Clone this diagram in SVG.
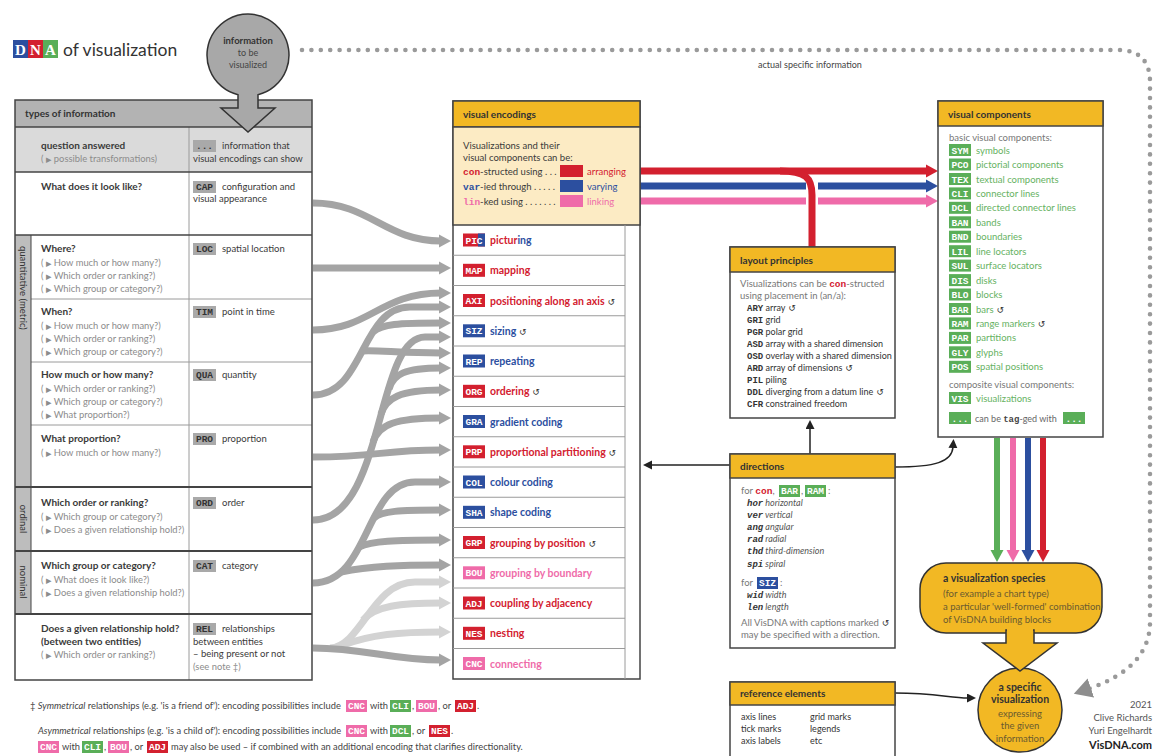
<svg xmlns="http://www.w3.org/2000/svg" width="1157" height="756" viewBox="0 0 1157 756">
<defs>
<style>
text{font-family:Lato,"Open Sans","Liberation Sans",sans-serif;}
.q{font-size:10px;font-weight:700;fill:#3a3a3a}
.s{font-size:9.4px;fill:#8c8c8c}
.t{font-size:9.5px;fill:#3a3a3a}
.sm{font-size:9px;fill:#444}
.hd{font-size:10px;font-weight:700;fill:#333}
.mono{font-family:"Liberation Mono","DejaVu Sans Mono",monospace;font-weight:700}
.tg{font-family:"Liberation Mono","DejaVu Sans Mono",monospace;font-weight:700;font-size:9.5px;text-anchor:middle;fill:#fff}
.tgd{font-family:"Liberation Mono","DejaVu Sans Mono",monospace;font-weight:700;font-size:9.5px;text-anchor:middle;fill:#333}
.box{fill:#fff;stroke:#444;stroke-width:1.5}
.yh{fill:#f2b824;stroke:#444;stroke-width:1.5}
.enc{font-size:10.5px;font-weight:700}
.red{fill:#d3202f}.blu{fill:#2c4f9f}.pnk{fill:#ef6ba9}.grn{fill:#5aae58}.gry{fill:#a9a9a9}
.gc{font-size:9.5px;fill:#66b262}
.rl{stroke:#9a9a9a;stroke-width:1}
.dl{stroke:#444;stroke-width:1.5}
.flow{fill:none;stroke:#a4a4a4;stroke-width:7}
.flowl{fill:none;stroke:#d3d3d3;stroke-width:7}
.thin{fill:none;stroke:#222;stroke-width:1.5}
.rot{font-size:9.5px;fill:#333}
.arr{font-family:"DejaVu Sans",sans-serif;font-weight:400;fill:#333;font-size:9px}
.tri{font-family:"DejaVu Sans",sans-serif;font-size:7.2px}
.dna{font-family:"Liberation Serif",serif;font-weight:700;font-size:15px;fill:#fff;text-anchor:middle}
.gt{font-size:9.5px;fill:#777}
.sp{font-size:9.5px;fill:#6a5a30}
</style>
<marker id="mg" markerUnits="userSpaceOnUse" markerWidth="14" markerHeight="16" refX="2" refY="8" orient="auto"><path d="M0,1.5 L12,8 L0,14.5 z" fill="#a4a4a4"/></marker>
<marker id="ml" markerUnits="userSpaceOnUse" markerWidth="14" markerHeight="16" refX="2" refY="8" orient="auto"><path d="M0,1.5 L12,8 L0,14.5 z" fill="#d3d3d3"/></marker>
<marker id="mr" markerUnits="userSpaceOnUse" markerWidth="14" markerHeight="16" refX="2" refY="8" orient="auto"><path d="M0,1.5 L12,8 L0,14.5 z" fill="#d3202f"/></marker>
<marker id="mb" markerUnits="userSpaceOnUse" markerWidth="14" markerHeight="16" refX="2" refY="8" orient="auto"><path d="M0,1.5 L12,8 L0,14.5 z" fill="#2c4f9f"/></marker>
<marker id="mp" markerUnits="userSpaceOnUse" markerWidth="14" markerHeight="16" refX="2" refY="8" orient="auto"><path d="M0,1.5 L12,8 L0,14.5 z" fill="#ef6ba9"/></marker>
<marker id="mgr" markerUnits="userSpaceOnUse" markerWidth="14" markerHeight="16" refX="2" refY="8" orient="auto"><path d="M0,1.5 L12,8 L0,14.5 z" fill="#5aae58"/></marker>
<marker id="mk" markerUnits="userSpaceOnUse" markerWidth="10" markerHeight="10" refX="1" refY="4.5" orient="auto"><path d="M0,0 L9,4.5 L0,9 z" fill="#222"/></marker>
<marker id="md" markerUnits="userSpaceOnUse" markerWidth="22" markerHeight="22" refX="3" refY="10" orient="auto"><path d="M0,0 L18,10 L0,20 z" fill="#8e8e8e"/></marker>
</defs>
<rect width="1157" height="756" fill="#fff"/>

<!-- title -->
<g id="title">
<rect x="13" y="40" width="15" height="18" fill="#2c4f9f"/>
<rect x="28" y="40" width="15" height="18" fill="#d3202f"/>
<rect x="43" y="40" width="15" height="18" fill="#5aae58"/>
<text x="20.5" y="55" class="dna">D</text>
<text x="35.5" y="55" class="dna">N</text>
<text x="50.5" y="55" class="dna">A</text>
<text x="63" y="56" style="font-size:17.5px;fill:#333">of visualization</text>
</g>

<!-- connectors -->
<g id="connectors">
<!-- dotted route of the actual specific information -->
<path d="M302,50 L1118,50 Q1150,50 1150,82 L1150,622 Q1150,668 1088,689" fill="none" stroke="#9a9a9a" stroke-width="4.6" stroke-linecap="round" stroke-dasharray="0 9.4" marker-end="url(#md)"/>
<text x="810" y="68" text-anchor="middle" class="sm">actual specific information</text>

<!-- types of information to visual encodings -->
<path class="flowl" d="M330,648 C362,646 372,582 415,582 L441,582" marker-end="url(#ml)"/>
<path class="flowl" d="M340,646 C372,634 400,632 441,632" marker-end="url(#ml)"/>
<path class="flowl" d="M363,620 C375,606 400,603 441,603" marker-end="url(#ml)"/>
<path class="flow" d="M313,648 C365,648 390,660 441,660" marker-end="url(#mg)"/>

<path class="flow" d="M313,203 C370,203 385,241 441,241" marker-end="url(#mg)"/>
<path class="flow" d="M313,268 L441,268" marker-end="url(#mg)"/>
<path class="flow" d="M313,330 C370,330 380,293 441,293" marker-end="url(#mg)"/>
<path class="flow" d="M313,395 C365,395 360,307 410,307 L441,307" marker-end="url(#mg)"/>
<path class="flow" d="M362,351 C378,350 400,353 441,353" marker-end="url(#mg)"/>
<path class="flow" d="M373,332 C382,324 398,323 441,323" marker-end="url(#mg)"/>
<path class="flow" d="M313,457 C380,457 380,450 441,450" marker-end="url(#mg)"/>
<path class="flow" d="M313,520 C385,520 375,337 425,337 L441,337" marker-end="url(#mg)"/>
<path class="flow" d="M373,442 C379,424 396,418 441,418" marker-end="url(#mg)"/>
<path class="flow" d="M381,414 C386,398 400,390 441,390" marker-end="url(#mg)"/>
<path class="flow" d="M389,389 C393,374 405,368 441,368" marker-end="url(#mg)"/>
<path class="flow" d="M313,583 C370,583 365,482 415,482 L441,482" marker-end="url(#mg)"/>
<path class="flow" d="M341,572 C370,566 400,565 441,565" marker-end="url(#mg)"/>
<path class="flow" d="M359,547 C372,541 395,540 441,540" marker-end="url(#mg)"/>
<path class="flow" d="M374,518 C381,511 400,510 441,510" marker-end="url(#mg)"/>

<!-- arranging / varying / linking -->
<path d="M640,171 L928,171" stroke="#d3202f" stroke-width="7" fill="none" marker-end="url(#mr)"/>
<path d="M640,186 L928,186" stroke="#2c4f9f" stroke-width="7" fill="none" marker-end="url(#mb)"/>
<path d="M640,201 L928,201" stroke="#ef6ba9" stroke-width="7" fill="none" marker-end="url(#mp)"/>
<path d="M812,180 L812,212" stroke="#fff" stroke-width="12" fill="none"/>
<path d="M780,171 C806,171 812,178 812,195 L812,247" stroke="#d3202f" stroke-width="7" fill="none"/>

<!-- visual components to species -->
<path d="M997,438 L997,552" stroke="#5aae58" stroke-width="6" fill="none" marker-end="url(#mgr)"/>
<path d="M1013,438 L1013,552" stroke="#ef6ba9" stroke-width="6" fill="none" marker-end="url(#mp)"/>
<path d="M1028,438 L1028,552" stroke="#2c4f9f" stroke-width="6" fill="none" marker-end="url(#mb)"/>
<path d="M1043,438 L1043,552" stroke="#d3202f" stroke-width="6" fill="none" marker-end="url(#mr)"/>

<!-- directions -->
<path class="thin" d="M810,454 L810,428" marker-end="url(#mk)"/>
<path class="thin" d="M730,465 L651,465" marker-end="url(#mk)"/>
<path class="thin" d="M895,467 C935,467 952,462 953,447" marker-end="url(#mk)"/>
<!-- reference elements -->
<path class="thin" d="M895,693 C935,693 950,698 968,698" marker-end="url(#mk)"/>
</g>

<!-- types of information table -->
<g id="types-of-information">
<rect x="15" y="100" width="297" height="580" fill="#fff"/>
<rect x="15" y="100" width="297" height="27" fill="#b3b3b3"/>
<rect x="15" y="127" width="297" height="45" fill="#dadada"/>
<rect x="15" y="235" width="16" height="379" fill="#bdbdbd"/>
<g class="rl">
<line x1="31" y1="299" x2="312" y2="299"/>
<line x1="31" y1="362" x2="312" y2="362"/>
<line x1="31" y1="425" x2="312" y2="425"/>
<line x1="189" y1="127" x2="189" y2="680"/>
</g>
<g class="dl">
<line x1="15" y1="127" x2="312" y2="127"/>
<line x1="15" y1="172" x2="312" y2="172"/>
<line x1="15" y1="235" x2="312" y2="235"/>
<line x1="15" y1="487" x2="312" y2="487" stroke-width="2"/>
<line x1="15" y1="551" x2="312" y2="551" stroke-width="2"/>
<line x1="15" y1="614" x2="312" y2="614" stroke-width="2"/>
<line x1="31" y1="235" x2="31" y2="614" stroke-width="1"/>
</g>
<rect x="15" y="100" width="297" height="580" fill="none" stroke="#444" stroke-width="1.5"/>
<text x="25" y="117" class="hd">types of information</text>

<text class="rot" transform="translate(19.5,246) rotate(90)">quantitative (metric)</text>
<text class="rot" transform="translate(19.5,519) rotate(90)" text-anchor="middle">ordinal</text>
<text class="rot" transform="translate(19.5,582) rotate(90)" text-anchor="middle">nominal</text>

<text x="41" y="149" class="q">question answered</text>
<text x="41" y="162" class="s">( <tspan class="tri">▶</tspan> possible transformations)</text>
<rect x="193" y="140" width="23" height="12" class="gry"/><text x="204.5" y="149" class="tgd">...</text>
<text x="222" y="149" class="t">information that</text>
<text x="193" y="162" class="t">visual encodings can show</text>

<text x="41" y="190" class="q">What does it look like?</text>
<rect x="193" y="181" width="23" height="12" class="gry"/><text x="204.5" y="190" class="tgd">CAP</text>
<text x="222" y="190" class="t">configuration and</text>
<text x="193" y="202" class="t">visual appearance</text>

<text x="41" y="252" class="q">Where?</text>
<text x="41" y="266" class="s">( <tspan class="tri">▶</tspan> How much or how many?)</text>
<text x="41" y="279" class="s">( <tspan class="tri">▶</tspan> Which order or ranking?)</text>
<text x="41" y="292" class="s">( <tspan class="tri">▶</tspan> Which group or category?)</text>
<rect x="193" y="243" width="23" height="12" class="gry"/><text x="204.5" y="252" class="tgd">LOC</text>
<text x="222" y="252" class="t">spatial location</text>

<text x="41" y="315" class="q">When?</text>
<text x="41" y="329" class="s">( <tspan class="tri">▶</tspan> How much or how many?)</text>
<text x="41" y="342" class="s">( <tspan class="tri">▶</tspan> Which order or ranking?)</text>
<text x="41" y="355" class="s">( <tspan class="tri">▶</tspan> Which group or category?)</text>
<rect x="193" y="306" width="23" height="12" class="gry"/><text x="204.5" y="315" class="tgd">TIM</text>
<text x="222" y="315" class="t">point in time</text>

<text x="41" y="378" class="q">How much or how many?</text>
<text x="41" y="392" class="s">( <tspan class="tri">▶</tspan> Which order or ranking?)</text>
<text x="41" y="405" class="s">( <tspan class="tri">▶</tspan> Which group or category?)</text>
<text x="41" y="418" class="s">( <tspan class="tri">▶</tspan> What proportion?)</text>
<rect x="193" y="369" width="23" height="12" class="gry"/><text x="204.5" y="378" class="tgd">QUA</text>
<text x="222" y="378" class="t">quantity</text>

<text x="41" y="442" class="q">What proportion?</text>
<text x="41" y="456" class="s">( <tspan class="tri">▶</tspan> How much or how many?)</text>
<rect x="193" y="433" width="23" height="12" class="gry"/><text x="204.5" y="442" class="tgd">PRO</text>
<text x="222" y="442" class="t">proportion</text>

<text x="41" y="506" class="q">Which order or ranking?</text>
<text x="41" y="520" class="s">( <tspan class="tri">▶</tspan> Which group or category?)</text>
<text x="41" y="533" class="s">( <tspan class="tri">▶</tspan> Does a given relationship hold?)</text>
<rect x="193" y="497" width="23" height="12" class="gry"/><text x="204.5" y="506" class="tgd">ORD</text>
<text x="222" y="506" class="t">order</text>

<text x="41" y="569" class="q">Which group or category?</text>
<text x="41" y="583" class="s">( <tspan class="tri">▶</tspan> What does it look like?)</text>
<text x="41" y="596" class="s">( <tspan class="tri">▶</tspan> Does a given relationship hold?)</text>
<rect x="193" y="560" width="23" height="12" class="gry"/><text x="204.5" y="569" class="tgd">CAT</text>
<text x="222" y="569" class="t">category</text>

<text x="41" y="632" class="q">Does a given relationship hold?</text>
<text x="41" y="645" class="q">(between two entities)</text>
<text x="41" y="658" class="s">( <tspan class="tri">▶</tspan> Which order or ranking?)</text>
<rect x="193" y="623" width="23" height="12" class="gry"/><text x="204.5" y="632" class="tgd">REL</text>
<text x="222" y="632" class="t">relationships</text>
<text x="193" y="645" class="t">between entities</text>
<text x="193" y="657" class="t">– being present or not</text>
<text x="193" y="670" class="s">(see note ‡)</text>
</g>

<!-- information to be visualized -->
<g id="information">
<path d="M238,94.8 A41,41 0 1 1 258,94.8 L258,108 L275,108 L248,132 L221,108 L238,108 Z" fill="#a8a8a8" stroke="#333" stroke-width="1.5"/>
<text x="248" y="44" text-anchor="middle" style="font-size:9.5px;font-weight:700;fill:#333">information</text>
<text x="248" y="56" text-anchor="middle" class="sm">to be</text>
<text x="248" y="68" text-anchor="middle" class="sm">visualized</text>
</g>

<!-- visual encodings -->
<g id="visual-encodings">
<rect x="453" y="101" width="187" height="578" class="box"/>
<rect x="453" y="101" width="187" height="26" class="yh"/>
<rect x="453" y="127" width="187" height="98" fill="#fcebc4" stroke="#444" stroke-width="1.5"/>
<text x="463" y="118" class="hd">visual encodings</text>
<text x="463" y="149" class="t">Visualizations and their</text>
<text x="463" y="161" class="t">visual components can be:</text>
<text x="463" y="175" class="t"><tspan class="mono red">con</tspan>-structed using . . .</text>
<text x="463" y="190" class="t"><tspan class="mono blu">var</tspan>-ied through . . . . .</text>
<text x="463" y="205" class="t"><tspan class="mono pnk">lin</tspan>-ked using . . . . . . .</text>
<rect x="560" y="165" width="23" height="12" class="red"/>
<rect x="560" y="180" width="23" height="12" class="blu"/>
<rect x="560" y="195" width="23" height="12" class="pnk"/>
<text x="587" y="175" style="font-size:9.5px" class="red">arranging</text>
<text x="587" y="190" style="font-size:9.5px" class="blu">varying</text>
<text x="587" y="205" style="font-size:9.5px" class="pnk">linking</text>
<g class="rl">
<line x1="625" y1="225" x2="625" y2="679"/>
<line x1="453" y1="255.25" x2="625" y2="255.25"/>
<line x1="453" y1="285.5" x2="625" y2="285.5"/>
<line x1="453" y1="315.75" x2="625" y2="315.75"/>
<line x1="453" y1="346" x2="625" y2="346"/>
<line x1="453" y1="376.25" x2="625" y2="376.25"/>
<line x1="453" y1="406.5" x2="625" y2="406.5"/>
<line x1="453" y1="436.75" x2="625" y2="436.75"/>
<line x1="453" y1="467" x2="625" y2="467"/>
<line x1="453" y1="497.25" x2="625" y2="497.25"/>
<line x1="453" y1="527.5" x2="625" y2="527.5"/>
<line x1="453" y1="557.75" x2="625" y2="557.75"/>
<line x1="453" y1="588" x2="625" y2="588"/>
<line x1="453" y1="618.25" x2="625" y2="618.25"/>
<line x1="453" y1="648.5" x2="625" y2="648.5"/>
</g>
<rect x="463" y="233.5" width="22" height="13" class="red"/><rect x="478" y="233.5" width="7" height="13" class="blu"/><text x="474" y="243.5" class="tg">PIC</text>
<text x="490" y="244" class="enc"><tspan class="red">pictur</tspan><tspan class="blu">ing</tspan></text>
<rect x="463" y="263.8" width="22" height="13" class="red"/><text x="474" y="273.8" class="tg">MAP</text>
<text x="490" y="274.3" class="enc red">mapping</text>
<rect x="463" y="294" width="22" height="13" class="red"/><text x="474" y="304" class="tg">AXI</text>
<text x="490" y="304.5" class="enc red">positioning along an axis<tspan class="arr"> ↺</tspan></text>
<rect x="463" y="324.3" width="22" height="13" class="blu"/><text x="474" y="334.3" class="tg">SIZ</text>
<text x="490" y="334.8" class="enc blu">sizing<tspan class="arr"> ↺</tspan></text>
<rect x="463" y="354.5" width="22" height="13" class="blu"/><text x="474" y="364.5" class="tg">REP</text>
<text x="490" y="365" class="enc blu">repeating</text>
<rect x="463" y="384.8" width="22" height="13" class="red"/><text x="474" y="394.8" class="tg">ORG</text>
<text x="490" y="395.3" class="enc red">ordering<tspan class="arr"> ↺</tspan></text>
<rect x="463" y="415" width="22" height="13" class="blu"/><text x="474" y="425" class="tg">GRA</text>
<text x="490" y="425.5" class="enc blu">gradient coding</text>
<rect x="463" y="445.3" width="22" height="13" class="red"/><text x="474" y="455.3" class="tg">PRP</text>
<text x="490" y="455.8" class="enc red">proportional partitioning<tspan class="arr"> ↺</tspan></text>
<rect x="463" y="475.5" width="22" height="13" class="blu"/><text x="474" y="485.5" class="tg">COL</text>
<text x="490" y="486" class="enc blu">colour coding</text>
<rect x="463" y="505.8" width="22" height="13" class="blu"/><text x="474" y="515.8" class="tg">SHA</text>
<text x="490" y="516.3" class="enc blu">shape coding</text>
<rect x="463" y="536" width="22" height="13" class="red"/><text x="474" y="546" class="tg">GRP</text>
<text x="490" y="546.5" class="enc red">grouping by position<tspan class="arr"> ↺</tspan></text>
<rect x="463" y="566.3" width="22" height="13" class="pnk"/><text x="474" y="576.3" class="tg">BOU</text>
<text x="490" y="576.8" class="enc pnk">grouping by boundary</text>
<rect x="463" y="596.5" width="22" height="13" class="red"/><text x="474" y="606.5" class="tg">ADJ</text>
<text x="490" y="607" class="enc red">coupling by adjacency</text>
<rect x="463" y="626.8" width="22" height="13" class="red"/><text x="474" y="636.8" class="tg">NES</text>
<text x="490" y="637.3" class="enc red">nesting</text>
<rect x="463" y="657" width="22" height="13" class="pnk"/><text x="474" y="667" class="tg">CNC</text>
<text x="490" y="667.5" class="enc pnk">connecting</text>
</g>

<!-- layout principles -->
<g id="layout-principles">
<rect x="730" y="247" width="165" height="171" class="box"/>
<rect x="730" y="247" width="165" height="25" class="yh"/>
<text x="740" y="264" class="hd">layout principles</text>
<text x="740" y="287" class="gt">Visualizations can be <tspan class="mono red">con</tspan>-structed</text>
<text x="740" y="299" class="gt">using placement in (an/a):</text>
<g style="font-size:9px;fill:#333">
<text x="747" y="311"><tspan class="mono">ARY</tspan> array<tspan class="arr"> ↺</tspan></text>
<text x="747" y="323"><tspan class="mono">GRI</tspan> grid</text>
<text x="747" y="335"><tspan class="mono">PGR</tspan> polar grid</text>
<text x="747" y="347"><tspan class="mono">ASD</tspan> array with a shared dimension</text>
<text x="747" y="359"><tspan class="mono">OSD</tspan> overlay with a shared dimension</text>
<text x="747" y="371"><tspan class="mono">ARD</tspan> array of dimensions<tspan class="arr"> ↺</tspan></text>
<text x="747" y="383"><tspan class="mono">PIL</tspan> piling</text>
<text x="747" y="395"><tspan class="mono">DDL</tspan> diverging from a datum line<tspan class="arr"> ↺</tspan></text>
<text x="747" y="407"><tspan class="mono">CFR</tspan> constrained freedom</text>
</g>
</g>

<!-- directions -->
<g id="directions">
<rect x="730" y="454" width="165" height="194" class="box"/>
<rect x="730" y="454" width="165" height="24" class="yh"/>
<text x="740" y="470" class="hd">directions</text>
<text x="741" y="494" class="gt">for <tspan class="mono red">con</tspan>,</text>
<rect x="779" y="485" width="21" height="12" class="grn"/><text x="789.5" y="494" class="tg">BAR</text>
<text x="801" y="494" class="gt">,</text>
<rect x="805" y="485" width="21" height="12" class="grn"/><text x="815.5" y="494" class="tg">RAM</text>
<text x="828" y="494" class="gt">:</text>
<g style="font-size:9px;font-style:italic;fill:#555">
<text x="747" y="506"><tspan class="mono" style="fill:#333">hor</tspan> horizontal</text>
<text x="747" y="518"><tspan class="mono" style="fill:#333">ver</tspan> vertical</text>
<text x="747" y="530"><tspan class="mono" style="fill:#333">ang</tspan> angular</text>
<text x="747" y="542"><tspan class="mono" style="fill:#333">rad</tspan> radial</text>
<text x="747" y="554"><tspan class="mono" style="fill:#333">thd</tspan> third-dimension</text>
<text x="747" y="567"><tspan class="mono" style="fill:#333">spi</tspan> spiral</text>
<text x="747" y="598"><tspan class="mono" style="fill:#333">wid</tspan> width</text>
<text x="747" y="610"><tspan class="mono" style="fill:#333">len</tspan> length</text>
</g>
<text x="741" y="586" class="gt">for</text>
<rect x="757" y="577" width="21" height="12" class="blu"/><text x="767.5" y="586" class="tg">SIZ</text>
<text x="780" y="586" class="gt">:</text>
<text x="741" y="626" class="gt">All VisDNA with captions marked<tspan class="arr"> ↺</tspan></text>
<text x="741" y="638" class="gt">may be specified with a direction.</text>
</g>

<!-- visual components -->
<g id="visual-components">
<rect x="938" y="101" width="165" height="336" class="box"/>
<rect x="938" y="101" width="165" height="25" class="yh"/>
<text x="948" y="118" class="hd">visual components</text>
<text x="949" y="141" class="gt">basic visual components:</text>
<g>
<rect x="949" y="144" width="22" height="12" class="grn"/><text x="960" y="153.5" class="tg">SYM</text><text x="976" y="153.5" class="gc">symbols</text>
<rect x="949" y="158.5" width="22" height="12" class="grn"/><text x="960" y="168" class="tg">PCO</text><text x="976" y="168" class="gc">pictorial components</text>
<rect x="949" y="173" width="22" height="12" class="grn"/><text x="960" y="182.5" class="tg">TEX</text><text x="976" y="182.5" class="gc">textual components</text>
<rect x="949" y="187.4" width="22" height="12" class="grn"/><text x="960" y="196.9" class="tg">CLI</text><text x="976" y="196.9" class="gc">connector lines</text>
<rect x="949" y="201.8" width="22" height="12" class="grn"/><text x="960" y="211.3" class="tg">DCL</text><text x="976" y="211.3" class="gc">directed connector lines</text>
<rect x="949" y="216.3" width="22" height="12" class="grn"/><text x="960" y="225.8" class="tg">BAN</text><text x="976" y="225.8" class="gc">bands</text>
<rect x="949" y="230.7" width="22" height="12" class="grn"/><text x="960" y="240.2" class="tg">BND</text><text x="976" y="240.2" class="gc">boundaries</text>
<rect x="949" y="245.2" width="22" height="12" class="grn"/><text x="960" y="254.7" class="tg">LIL</text><text x="976" y="254.7" class="gc">line locators</text>
<rect x="949" y="259.6" width="22" height="12" class="grn"/><text x="960" y="269.1" class="tg">SUL</text><text x="976" y="269.1" class="gc">surface locators</text>
<rect x="949" y="274.1" width="22" height="12" class="grn"/><text x="960" y="283.6" class="tg">DIS</text><text x="976" y="283.6" class="gc">disks</text>
<rect x="949" y="288.5" width="22" height="12" class="grn"/><text x="960" y="298" class="tg">BLO</text><text x="976" y="298" class="gc">blocks</text>
<rect x="949" y="303" width="22" height="12" class="grn"/><text x="960" y="312.5" class="tg">BAR</text><text x="976" y="312.5" class="gc">bars<tspan class="arr"> ↺</tspan></text>
<rect x="949" y="317.4" width="22" height="12" class="grn"/><text x="960" y="326.9" class="tg">RAM</text><text x="976" y="326.9" class="gc">range markers<tspan class="arr"> ↺</tspan></text>
<rect x="949" y="331.9" width="22" height="12" class="grn"/><text x="960" y="341.4" class="tg">PAR</text><text x="976" y="341.4" class="gc">partitions</text>
<rect x="949" y="346.3" width="22" height="12" class="grn"/><text x="960" y="355.8" class="tg">GLY</text><text x="976" y="355.8" class="gc">glyphs</text>
<rect x="949" y="360.8" width="22" height="12" class="grn"/><text x="960" y="370.3" class="tg">POS</text><text x="976" y="370.3" class="gc">spatial positions</text>
</g>
<text x="949" y="388" class="gt">composite visual components:</text>
<rect x="949" y="392" width="22" height="12" class="grn"/><text x="960" y="401.5" class="tg">VIS</text><text x="976" y="401.5" class="gc">visualizations</text>
<rect x="949" y="412" width="22" height="12" class="grn"/><text x="960" y="421.5" class="tg">...</text>
<text x="975" y="421.5" style="font-size:9px;fill:#666">can be <tspan class="mono" style="fill:#444">tag</tspan>-ged with</text>
<rect x="1063" y="412" width="22" height="12" class="grn"/><text x="1074" y="421.5" class="tg">...</text>
</g>

<!-- reference elements -->
<g id="reference-elements">
<rect x="730" y="682" width="165" height="80" class="box"/>
<rect x="730" y="682" width="165" height="23" class="yh"/>
<text x="740" y="697" class="hd">reference elements</text>
<g class="sm" style="font-size:9px;fill:#333">
<text x="741" y="720">axis lines</text>
<text x="741" y="732">tick marks</text>
<text x="741" y="744">axis labels</text>
<text x="810" y="720">grid marks</text>
<text x="810" y="732">legends</text>
<text x="810" y="744">etc</text>
</g>
</g>

<!-- a visualization species -->
<g id="species">
<rect x="920" y="563" width="182" height="70" rx="26" fill="#f2b824" stroke="#333" stroke-width="1.5"/>
<text x="943" y="582" style="font-size:10.5px;font-weight:700;fill:#333">a visualization species</text>
<text x="943" y="597" class="sp">(for example a chart type)</text>
<text x="943" y="610" class="sp">a particular 'well-formed' combination</text>
<text x="943" y="623" class="sp">of VisDNA building blocks</text>
</g>

<!-- a specific visualization -->
<g id="specific-visualization">
<circle cx="1020" cy="710" r="42" fill="#f2b824" stroke="#333" stroke-width="1.5"/>
<path d="M1006,630 L1034,630 L1034,643 L1057,643 L1020,671 L983,643 L1006,643 Z" fill="#f2b824" stroke="#333" stroke-width="1.5"/>
<rect x="1007" y="628" width="26" height="7" fill="#f2b824"/>
<text x="1020" y="691" text-anchor="middle" style="font-size:10.5px;font-weight:700;fill:#333">a specific</text>
<text x="1020" y="703" text-anchor="middle" style="font-size:10.5px;font-weight:700;fill:#333">visualization</text>
<text x="1020" y="717" text-anchor="middle" class="sp">expressing</text>
<text x="1020" y="729" text-anchor="middle" class="sp">the given</text>
<text x="1020" y="742" text-anchor="middle" class="sp">information</text>
</g>

<!-- notes -->
<g id="notes" style="font-size:9.3px;fill:#444">
<text x="30" y="709">‡ <tspan font-style="italic">Symmetrical</tspan> relationships (e.g. 'is a friend of'): encoding possibilities include</text>
<rect x="346" y="700" width="21" height="12" class="pnk"/><text x="356.5" y="709" class="tg">CNC</text>
<text x="370" y="709">with</text>
<rect x="390" y="700" width="21" height="12" class="grn"/><text x="400.5" y="709" class="tg">CLI</text>
<text x="412" y="709">,</text>
<rect x="416" y="700" width="21" height="12" class="pnk"/><text x="426.5" y="709" class="tg">BOU</text>
<text x="438" y="709">, or</text>
<rect x="455" y="700" width="21" height="12" class="red"/><text x="465.5" y="709" class="tg">ADJ</text>
<text x="477" y="709">.</text>

<text x="38" y="734"><tspan font-style="italic">Asymmetrical</tspan> relationships (e.g. 'is a child of'): encoding possibilities include</text>
<rect x="346" y="725" width="21" height="12" class="pnk"/><text x="356.5" y="734" class="tg">CNC</text>
<text x="370" y="734">with</text>
<rect x="390" y="725" width="21" height="12" class="grn"/><text x="400.5" y="734" class="tg">DCL</text>
<text x="412" y="734">, or</text>
<rect x="429" y="725" width="21" height="12" class="red"/><text x="439.5" y="734" class="tg">NES</text>
<text x="451" y="734">.</text>

<rect x="38" y="741" width="21" height="12" class="pnk"/><text x="48.5" y="750" class="tg">CNC</text>
<text x="62" y="750">with</text>
<rect x="82" y="741" width="21" height="12" class="grn"/><text x="92.5" y="750" class="tg">CLI</text>
<text x="104" y="750">,</text>
<rect x="108" y="741" width="21" height="12" class="pnk"/><text x="118.5" y="750" class="tg">BOU</text>
<text x="130" y="750">, or</text>
<rect x="147" y="741" width="21" height="12" class="red"/><text x="157.5" y="750" class="tg">ADJ</text>
<text x="171" y="750">may also be used – if combined with an additional encoding that clarifies directionality.</text>
</g>

<!-- credits -->
<g id="credits" text-anchor="end" style="font-size:9.5px;fill:#555">
<text x="1152" y="708">2021</text>
<text x="1152" y="721">Clive Richards</text>
<text x="1152" y="734">Yuri Engelhardt</text>
<text x="1152" y="749" style="font-size:11px;font-weight:700;fill:#222">VisDNA.com</text>
</g>
</svg>
